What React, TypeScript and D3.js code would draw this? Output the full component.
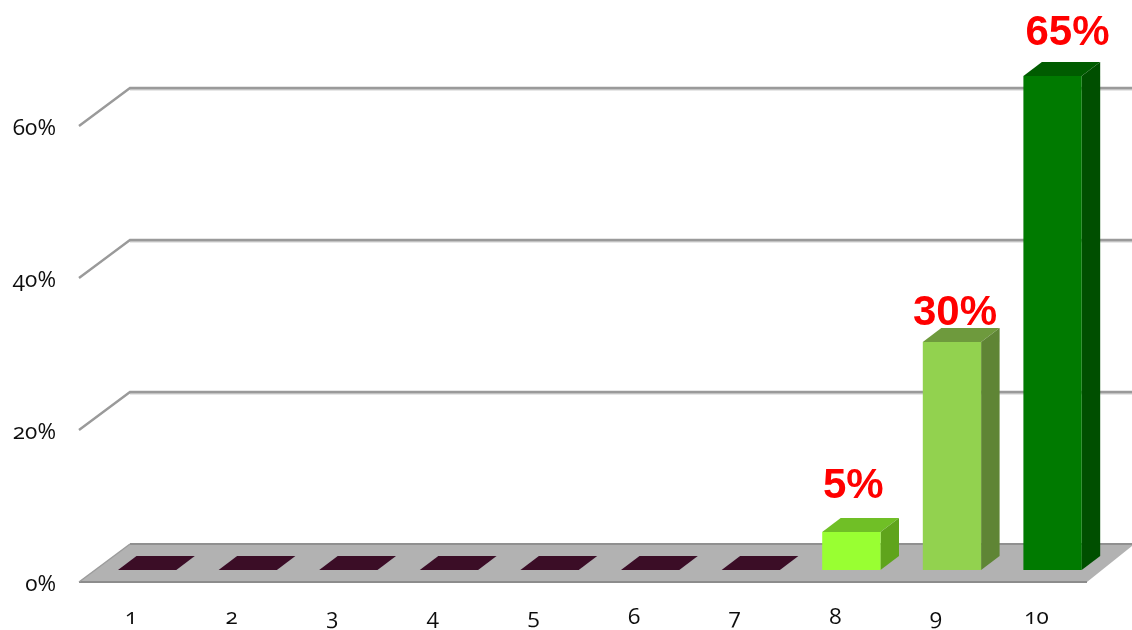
import React from 'react';
import * as d3 from 'd3';

const categories = ['1', '2', '3', '4', '5', '6', '7', '8', '9', '10'];
const values = [0, 0, 0, 0, 0, 0, 0, 5, 30, 65];
const yTicks = [0, 20, 40, 60];
const frontColors = ['#3a0c28', '#3a0c28', '#3a0c28', '#3a0c28', '#3a0c28', '#3a0c28', '#3a0c28', '#99ff33', '#92d250', '#007a00'];
const topColors = ['#3a0c28', '#3a0c28', '#3a0c28', '#3a0c28', '#3a0c28', '#3a0c28', '#3a0c28', '#6fbf26', '#6e9a3c', '#005c00'];
const sideColors = ['#3a0c28', '#3a0c28', '#3a0c28', '#3a0c28', '#3a0c28', '#3a0c28', '#3a0c28', '#5fa41f', '#5f8535', '#005000'];

// the value labels were placed by hand in the original, so they sit unevenly
const labelShift = [
  [0, 0], [0, 0], [0, 0], [0, 0], [0, 0], [0, 0], [0, 0],
  [2, -34], [3, -17], [15, -31],
];

const width = 1132;
const height = 630;
const wallDx = 51;
const wallDy = -38;
const barDx = 18.5;
const barDy = -14;
const floorFrontLeft = 79;
const floorFrontRight = 1087;
const floorBack = 544;
const barBase = 570;

const y = d3.scaleLinear().domain([0, 60]).range([floorBack, 88]);
const x = d3.scaleBand<string>().domain(categories).range([118, 1081.7]).paddingInner(0.4205).paddingOuter(0);
const poly = d3.line();

const App = () => {
  const w = x.bandwidth();
  const tickFont = { fontFamily: '"Open Sans", sans-serif', fontSize: 22.5, fontWeight: 400, fontVariantNumeric: 'oldstyle-nums', fill: '#111' };
  return (
    <svg width={width} height={height} style={{ position: 'absolute', left: 0, top: 0, background: '#fff' }}>
      <defs>
        <filter id="soft" x="-5%" y="-5%" width="110%" height="110%">
          <feGaussianBlur stdDeviation="0.7" />
        </filter>
        <filter id="softText" x="-5%" y="-5%" width="110%" height="110%">
          <feGaussianBlur stdDeviation="0.35" />
        </filter>
      </defs>
      <g filter="url(#soft)">
        {/* floor */}
        <path
          d={poly([
            [floorFrontLeft, y(0) - wallDy],
            [floorFrontLeft + wallDx, y(0)],
            [width + 10, y(0)],
            [width, y(0) + 2],
            [floorFrontRight, y(0) - wallDy],
          ]) + 'Z'}
          fill="#b2b2b2"
        />
        <line x1={floorFrontLeft} x2={floorFrontRight} y1={y(0) - wallDy} y2={y(0) - wallDy} stroke="#8c8c8c" strokeWidth={2} />
        <line x1={floorFrontLeft + wallDx} x2={width} y1={y(0)} y2={y(0)} stroke="#909090" strokeWidth={2} />
        <line x1={floorFrontLeft} x2={floorFrontLeft + wallDx} y1={y(0) - wallDy} y2={y(0)} stroke="#9c9c9c" strokeWidth={1.5} />
        {/* grid lines and their wall part */}
        {yTicks.filter((t) => t > 0).map((t) => (
          <g key={t} fill="none">
            <line x1={floorFrontLeft + wallDx} x2={width} y1={y(t) + 1.5} y2={y(t) + 1.5} stroke="#cfcfcf" strokeWidth={2} />
            <path
              d={poly([[floorFrontLeft, y(t) - wallDy], [floorFrontLeft + wallDx, y(t)], [width, y(t)]])!}
              stroke="#9a9a9a"
              strokeWidth={2.4}
            />
          </g>
        ))}
        {/* bars */}
        {categories.map((c, i) => {
          const left = x(c)!;
          const right = left + w;
          const top = barBase - (y(0) - y(values[i]));
          return (
            <g key={c}>
              <path
                d={poly([[left, top], [left + barDx, top + barDy], [right + barDx, top + barDy], [right, top]]) + 'Z'}
                fill={topColors[i]}
              />
              <path
                d={poly([[right, top], [right + barDx, top + barDy], [right + barDx, barBase + barDy], [right, barBase]]) + 'Z'}
                fill={sideColors[i]}
              />
              <rect x={left} y={top} width={w} height={barBase - top} fill={frontColors[i]} />
            </g>
          );
        })}
      </g>
      <g filter="url(#softText)">
        {/* y tick labels */}
        {yTicks.map((t) => (
          <text key={t} x={56} y={y(t) - wallDy + 9} textAnchor="end" style={tickFont}>
            {t}%
          </text>
        ))}
        {/* x tick labels */}
        {categories.map((c) => (
          <text key={c} x={x(c)! + w / 2 - 16} y={624} textAnchor="middle" style={tickFont}>
            {c}
          </text>
        ))}
        {/* value labels */}
        {categories.map((c, i) =>
          values[i] > 0 ? (
            <text
              key={c}
              x={x(c)! + w / 2 + labelShift[i][0]}
              y={barBase - (y(0) - y(values[i])) + labelShift[i][1]}
              textAnchor="middle"
              fill="#ff0000"
              fontFamily='"Liberation Sans", Arial, sans-serif'
              fontWeight="bold"
              fontSize={42}
            >
              {values[i]}%
            </text>
          ) : null
        )}
      </g>
    </svg>
  );
};

export default App;
